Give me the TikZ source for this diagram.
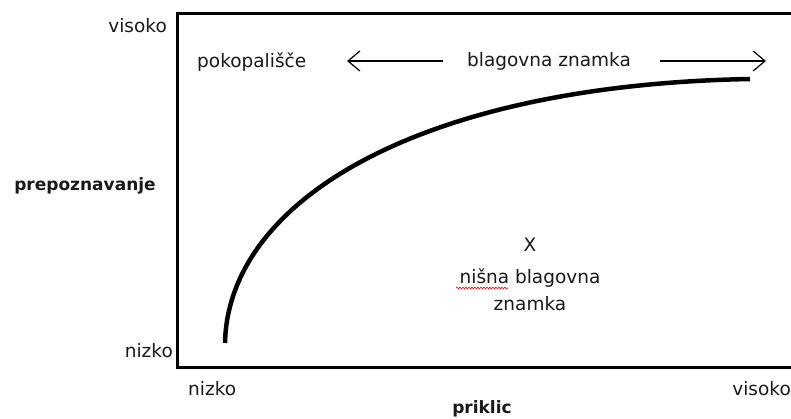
\documentclass[tikz,border=0pt]{standalone}
\usepackage{fontspec}
\setmainfont{DejaVu Sans}
\usetikzlibrary{arrows.meta,decorations.pathmorphing}
\begin{document}
\begin{tikzpicture}[x=1pt,y=-1pt,
  lbl/.style={inner sep=0pt,anchor=base,text=black!90,font=\fontsize{18.5}{24}\selectfont},
  blbl/.style={lbl,font=\fontsize{17}{24}\selectfont\bfseries},
  frame/.style={line width=3pt},
  arr/.style={line width=1.2pt,-{Straight Barb[length=12pt,width=20pt,line width=1.2pt]}},
  curvestyle/.style={line width=4.5pt,line cap=butt}]
\useasboundingbox (0,0) rectangle (791,418);
% frame
\coordinate (tr) at (791,13);
\coordinate (tl) at (177,13);
\coordinate (bl) at (177,367);
\coordinate (br) at (791,367);
\draw[frame] (tr) -- (tl) -- (bl) -- (br);
% axis labels
\node[lbl,anchor=base east] (vy) at (167,32) {visoko};
\node[lbl,anchor=base east] (ny) at (173,357) {nizko};
\node[lbl,anchor=base west] (nx) at (188,395) {nizko};
\node[lbl,anchor=base east] (vx) at (791,395) {visoko};
\node[blbl] (prep) at (85,190) {prepoznavanje};
\node[blbl] (prik) at (482,413) {priklic};
% top labels and arrows
\node[lbl,anchor=base west] (pok) at (197,67) {pokopališče};
\node[lbl] (bz) at (549,66) {blagovna znamka};
\coordinate (la) at (443,61);
\coordinate (lt) at (347,61);
\coordinate (ra) at (660,61);
\coordinate (rt) at (766,61);
\draw[arr] (la) -- (lt);
\draw[arr] (ra) -- (rt);
% curve
\coordinate (cs) at (225,343);
\coordinate (ce) at (750,79);
\draw[curvestyle] (cs) .. controls (228,200) and (420,85) .. (ce);
% niche brand
\node[lbl] (x) at (530,251) {X};
\node[lbl] (nis) at (530,283) {nišna blagovna};
\node[lbl] (zn) at (530,310) {znamka};
\coordinate (sqa) at (456,288);
\coordinate (sqb) at (508,288);
\draw[red,line width=0.6pt,decorate,decoration={snake,amplitude=0.9pt,segment length=3pt}] (sqa) -- (sqb);
\end{tikzpicture}
\end{document}
